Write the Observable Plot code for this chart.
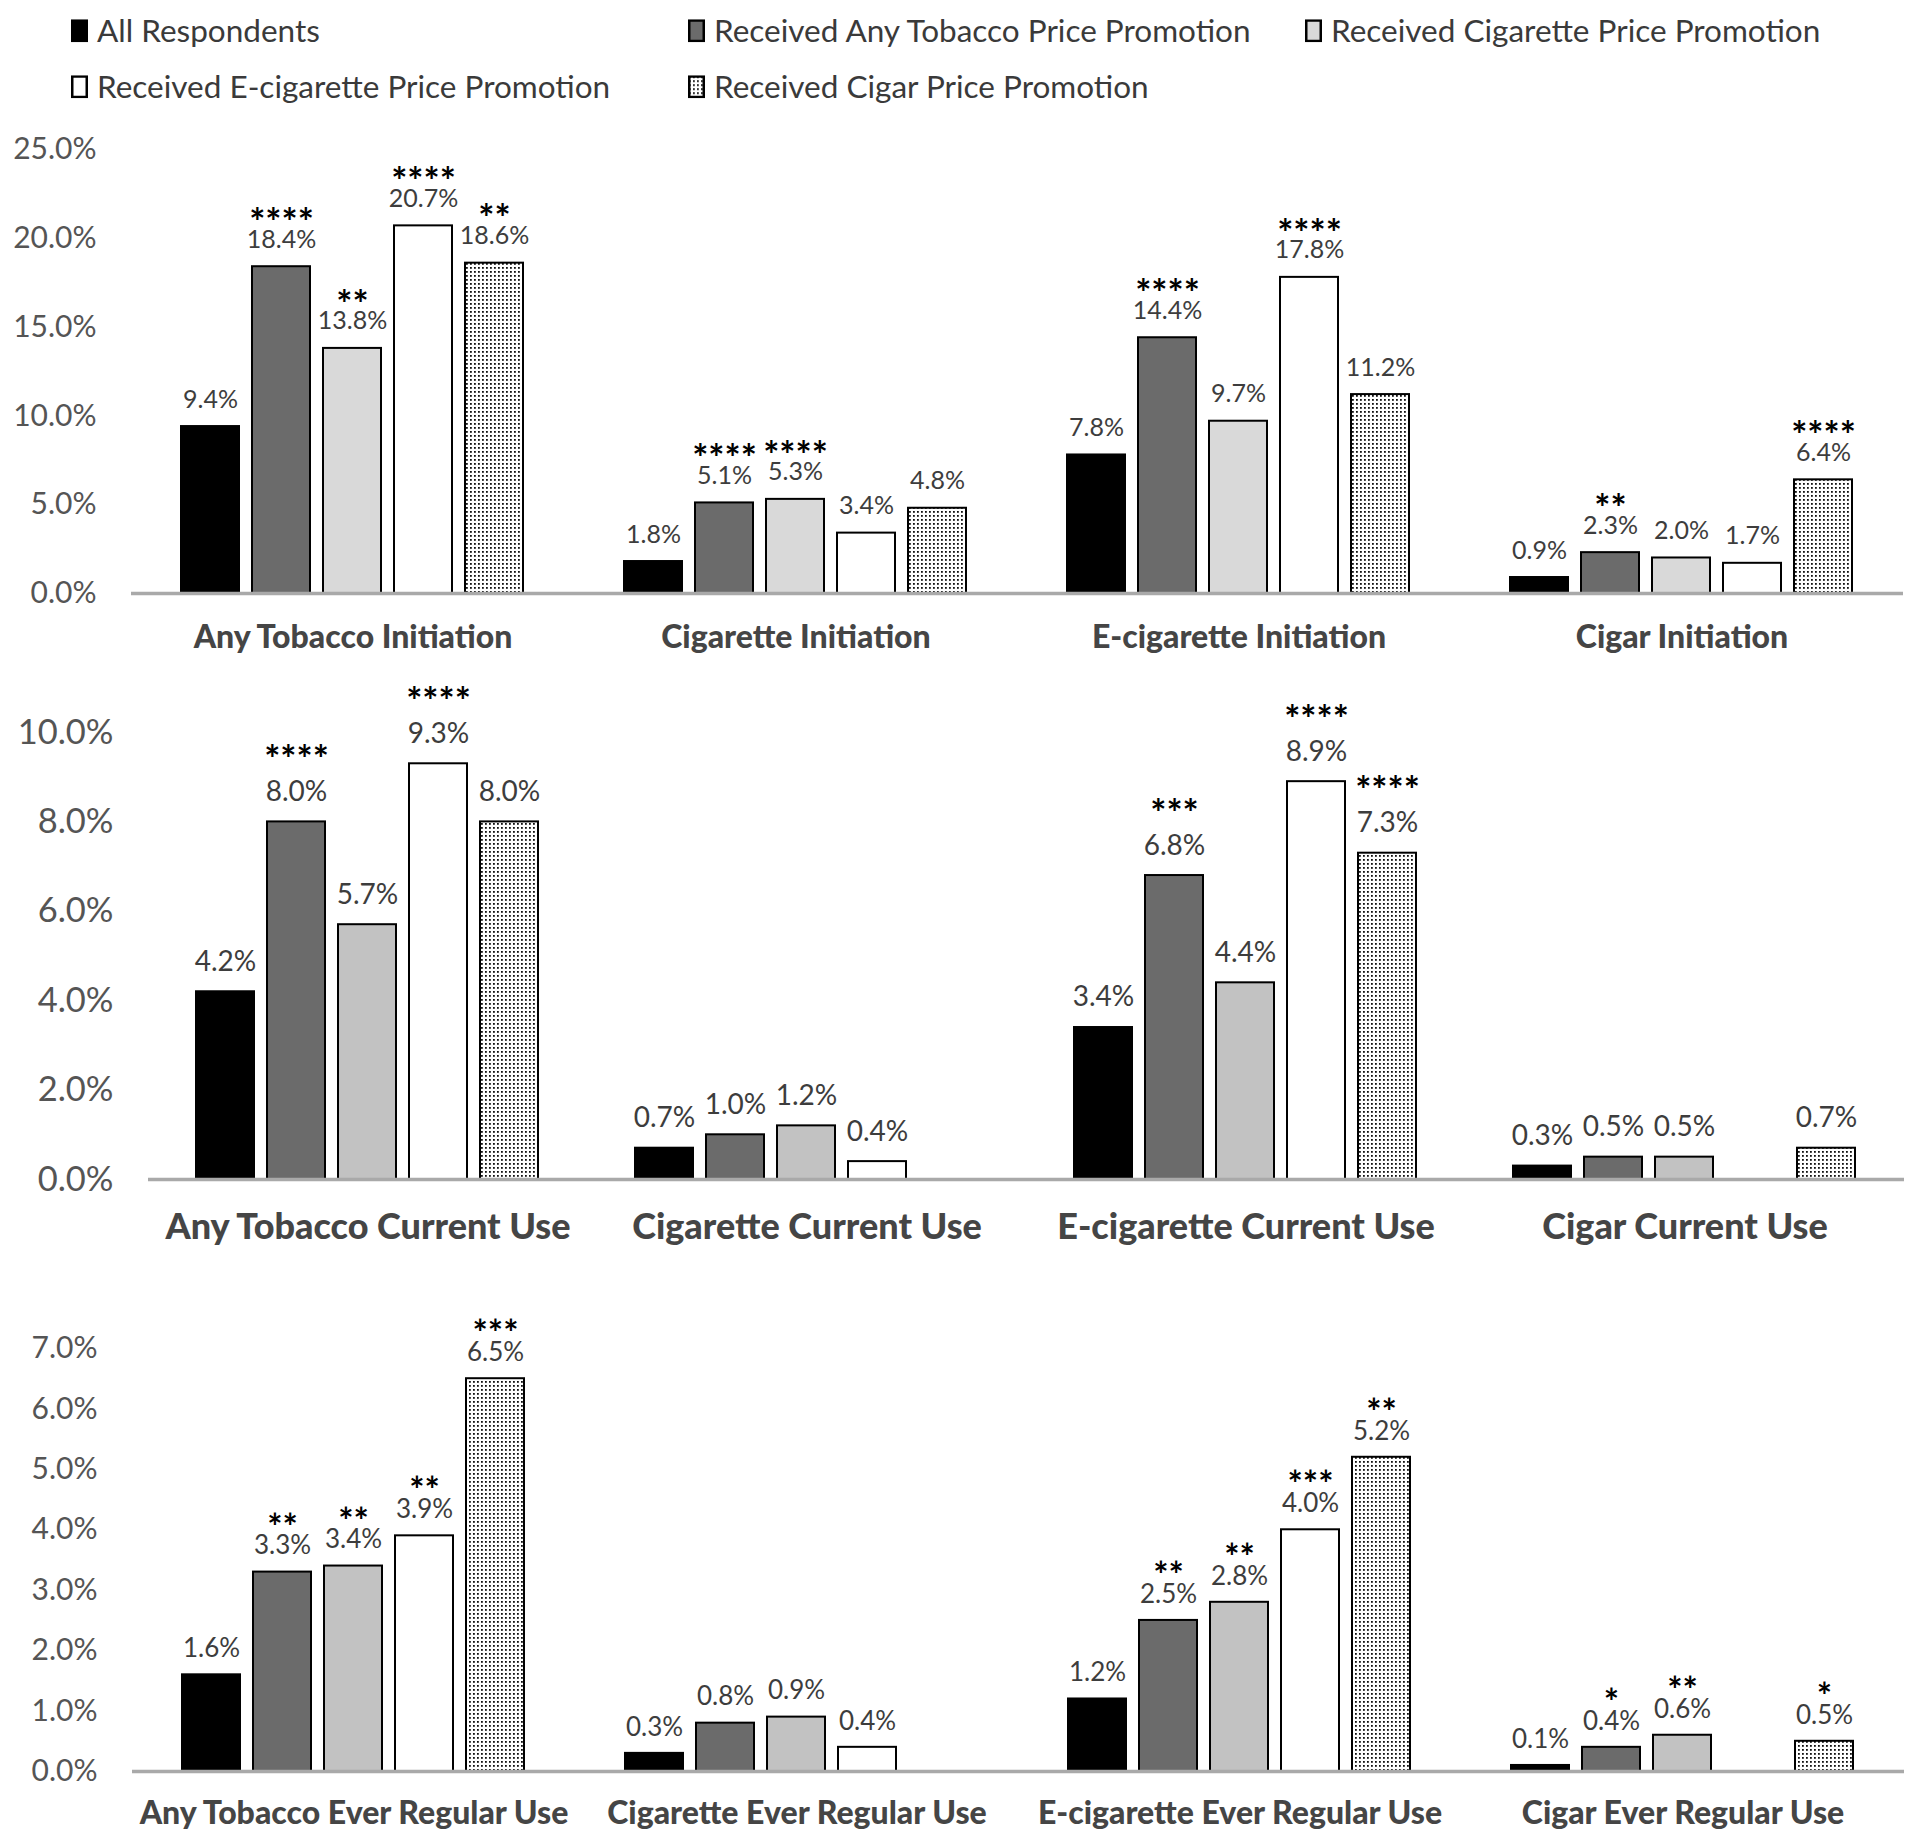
<!DOCTYPE html>
<html><head><meta charset="utf-8">
<script src="https://cdn.jsdelivr.net/npm/d3@7"></script>
<script src="https://cdn.jsdelivr.net/npm/@observablehq/plot@0.6"></script>
<style>
body{margin:0;background:#fff;width:1920px;height:1845px;position:relative;font-family:Lato,sans-serif;overflow:hidden}
#legend{position:absolute;left:0;top:0;width:1920px;height:110px}
.item{position:absolute;display:flex;align-items:center;font-size:31.5px;color:#3a3a3a;white-space:nowrap;line-height:1;transform:translateY(-50%)}
.item svg{margin-right:9px}
.panel{position:absolute;left:0}
</style></head><body>
<svg width="0" height="0" style="position:absolute">
  <defs>
    <pattern id="dots" width="4" height="4" patternUnits="userSpaceOnUse">
      <rect width="4" height="4" fill="#fff"/>
      <rect x="1" y="1" width="1.8" height="1.8" fill="#111"/>
    </pattern>
  </defs>
</svg>
<div id="legend"></div>
<div id="p1" class="panel" style="top:110px"></div>
<div id="p2" class="panel" style="top:670px"></div>
<div id="p3" class="panel" style="top:1260px"></div>
<script>
// ---- data ----
const series = ["All Respondents", "Received Any Tobacco Price Promotion", "Received Cigarette Price Promotion", "Received E-cigarette Price Promotion", "Received Cigar Price Promotion"];

const initiationCategories = ["Any Tobacco Initiation", "Cigarette Initiation", "E-cigarette Initiation", "Cigar Initiation"];
const initiationValues = [[9.4, 18.4, 13.8, 20.7, 18.6], [1.8, 5.1, 5.3, 3.4, 4.8], [7.8, 14.4, 9.7, 17.8, 11.2], [0.9, 2.3, 2.0, 1.7, 6.4]];
const initiationStars = [["", "****", "**", "****", "**"], ["", "****", "****", "", ""], ["", "****", "", "****", ""], ["", "**", "", "", "****"]];
const initiationTicks = [0, 5, 10, 15, 20, 25];

const currentCategories = ["Any Tobacco Current Use", "Cigarette Current Use", "E-cigarette Current Use", "Cigar Current Use"];
const currentValues = [[4.2, 8.0, 5.7, 9.3, 8.0], [0.7, 1.0, 1.2, 0.4, null], [3.4, 6.8, 4.4, 8.9, 7.3], [0.3, 0.5, 0.5, null, 0.7]];
const currentStars = [["", "****", "", "****", ""], ["", "", "", "", ""], ["", "***", "", "****", "****"], ["", "", "", "", ""]];
const currentTicks = [0, 2, 4, 6, 8, 10];

const everCategories = ["Any Tobacco Ever Regular Use", "Cigarette Ever Regular Use", "E-cigarette Ever Regular Use", "Cigar Ever Regular Use"];
const everValues = [[1.6, 3.3, 3.4, 3.9, 6.5], [0.3, 0.8, 0.9, 0.4, null], [1.2, 2.5, 2.8, 4.0, 5.2], [0.1, 0.4, 0.6, null, 0.5]];
const everStars = [["", "**", "**", "**", "***"], ["", "", "", "", ""], ["", "**", "**", "***", "**"], ["", "*", "**", "", "*"]];
const everTicks = [0, 1, 2, 3, 4, 5, 6, 7];

// ---- styles ----
const legendFills = ["#000", "#6b6b6b", "#d9d9d9", "#fff", "url(#dots)"];
const fillsTop = ["#000", "#6b6b6b", "#d9d9d9", "#fff", "url(#dots)"];
const fillsLower = ["#000", "#6b6b6b", "#c2c2c2", "#fff", "url(#dots)"];

// ---- legend ----
const legendPos = [[71, 31], [688, 31], [1305, 31], [71, 87], [688, 87]];
const legend = document.getElementById("legend");
series.forEach((s, i) => {
  const d = document.createElement("div");
  d.className = "item";
  d.style.left = legendPos[i][0] + "px";
  d.style.top = legendPos[i][1] + "px";
  d.innerHTML = `<svg width="17" height="23"><rect x="1.25" y="1.25" width="14.5" height="20.5" fill="${legendFills[i]}" stroke="#000" stroke-width="2.5"/></svg><span>${s}</span>`;
  legend.appendChild(d);
});

function panel(id, cats, vals, stars, ticks, cfg) {
  const rows = [];
  cats.forEach((c, i) => series.forEach((s, j) => {
    if (vals[i][j] != null) rows.push({cat: c, series: s, value: vals[i][j], stars: stars[i][j]});
  }));
  const chart = Plot.plot({
    width: 1920, height: cfg.height,
    marginTop: cfg.mt, marginBottom: cfg.mb, marginLeft: cfg.ml, marginRight: 16,
    style: {fontFamily: "Lato, sans-serif", background: "transparent", overflow: "visible"},
    fx: {domain: cats, padding: 0, axis: null},
    x: {domain: series, paddingInner: 0.18, paddingOuter: 0.67, axis: null},
    y: {domain: [0, ticks[ticks.length - 1]], axis: null},
    color: {domain: series, range: cfg.fills},
    marks: [
      Plot.axisY({ticks, tickSize: 0, tickPadding: 35, tickFormat: d => d.toFixed(1) + "%", fontSize: cfg.tickFont, fill: "#555", label: null}),
      Plot.axisFx({anchor: "bottom", tickSize: 0, tickPadding: cfg.catPad, lineAnchor: "middle", fontSize: cfg.catFont, fontWeight: 900, fill: "#454545", label: null}),
      Plot.barY(rows, {fx: "cat", x: "series", y: "value", fill: "series", stroke: "#000", strokeWidth: 2}),
      Plot.ruleY([0], {stroke: "#a9a9a9", strokeWidth: 3.5}),
      Plot.text(rows, {fx: "cat", x: "series", y: "value", text: d => d.value.toFixed(1) + "%", dy: -cfg.labelOff, fontSize: cfg.labelFont, fill: "#3d3d3d"}),
      Plot.text(rows, {fx: "cat", x: "series", y: "value", text: "stars", dy: -cfg.starOff, fontSize: cfg.starFont, fontWeight: "bold", fill: "#000"})
    ]
  });
  document.getElementById(id).appendChild(chart);
}

panel("p1", initiationCategories, initiationValues, initiationStars, initiationTicks,
  {height: 560, mt: 39, mb: 77, ml: 130, fills: fillsTop, tickFont: 30, catFont: 32, catPad: 44, labelFont: 25, labelOff: 27, starFont: 38, starOff: 43});
panel("p2", currentCategories, currentValues, currentStars, currentTicks,
  {height: 590, mt: 62, mb: 81, ml: 148, fills: fillsLower, tickFont: 34.5, catFont: 36, catPad: 48, labelFont: 28, labelOff: 30, starFont: 38, starOff: 61});
panel("p3", everCategories, everValues, everStars, everTicks,
  {height: 585, mt: 88, mb: 74, ml: 132, fills: fillsLower, tickFont: 30, catFont: 32, catPad: 42, labelFont: 26, labelOff: 26, starFont: 36, starOff: 44});
</script>
</body></html>
